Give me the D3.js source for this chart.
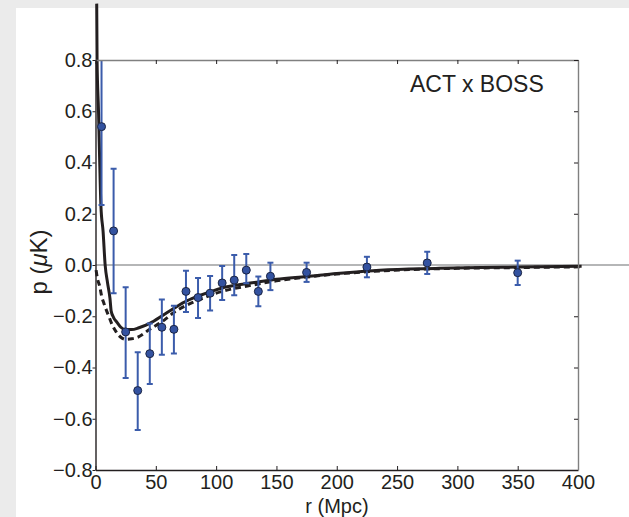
<!DOCTYPE html>
<html><head><meta charset="utf-8">
<script src="https://cdn.jsdelivr.net/npm/d3@7"></script>
<style>
html,body{margin:0;padding:0;background:#ebebeb;}
svg{display:block;}
text{font-family:"Liberation Sans",Arial,Helvetica,sans-serif;fill:#231f20;}
</style></head>
<body>
<script>
// ---- data ----
const rPts   = [5,15,25,35,45,55,65,75,85,95,105,115,125,135,145,175,225,275,350];
const pPts   = [0.54,0.133,-0.261,-0.49,-0.346,-0.243,-0.251,-0.103,-0.127,-0.11,-0.07,-0.059,-0.02,-0.103,-0.044,-0.029,-0.008,0.008,-0.03];
const errHi  = [0.85,0.376,-0.087,-0.34,-0.228,-0.135,-0.159,-0.022,-0.051,-0.043,-0.004,0.039,0.043,-0.045,0.009,0.009,0.032,0.052,0.017];
const errLo  = [0.234,-0.11,-0.441,-0.644,-0.464,-0.35,-0.345,-0.183,-0.207,-0.178,-0.137,-0.118,-0.071,-0.161,-0.098,-0.066,-0.048,-0.035,-0.078];

const solidR = [1.0,1.3,2.5,3.5,4.5,6.3,8,10,12,13,15,18,21,25,30,36,45,56,65,76,87,98,109,120,135,150,175,200,230,260,285,320,350,403];
const solidP = [1.02,0.8,0.6,0.4,0.23,0.13,0.0,-0.07,-0.13,-0.18,-0.205,-0.225,-0.243,-0.252,-0.252,-0.245,-0.228,-0.196,-0.169,-0.139,-0.118,-0.1,-0.085,-0.076,-0.066,-0.056,-0.045,-0.033,-0.022,-0.016,-0.013,-0.01,-0.008,-0.005];

const dashR = [0.5,1.5,3.6,5,7,11,14,17,21,25,30,35,45,57,65,76,87,98,109,126,150,175,200,230,260,300,350,403];
const dashP = [-0.02,-0.05,-0.085,-0.12,-0.15,-0.2,-0.235,-0.26,-0.282,-0.29,-0.288,-0.282,-0.251,-0.215,-0.185,-0.156,-0.134,-0.113,-0.098,-0.082,-0.062,-0.047,-0.035,-0.025,-0.018,-0.013,-0.01,-0.007];

const xTicks = [0,50,100,150,200,250,300,350,400];
const yTicks = [-0.8,-0.6,-0.4,-0.2,0.0,0.2,0.4,0.6,0.8];
const label = "ACT x BOSS";

// ---- layout ----
const W = 629, H = 517;
const L = 95.5, R = 578, T = 60, B = 470;

const svg = d3.select("body").append("svg").attr("width", W).attr("height", H);
svg.append("rect").attr("width", W).attr("height", H).attr("fill", "#ebebeb");
svg.append("rect").attr("x", 16).attr("y", 8).attr("width", W - 16).attr("height", H - 8).attr("fill", "#fff");

const x = d3.scaleLinear().domain([0, 400]).range([L, R]);
const y = d3.scaleLinear().domain([-0.8, 0.8]).range([B, T]);

svg.append("defs").append("clipPath").attr("id", "plotclip")
  .append("rect").attr("x", L).attr("y", T).attr("width", R - L).attr("height", B - T);

// zero line
svg.append("line").attr("x1", L).attr("x2", W).attr("y1", y(0)).attr("y2", y(0))
  .attr("stroke", "#6d6e70").attr("stroke-width", 1.2);

// curves
const line = d3.line().x(d => x(d[0])).y(d => y(d[1])).curve(d3.curveMonotoneX);
svg.append("path").datum(dashR.map((r, i) => [r, dashP[i]]))
  .attr("d", line).attr("fill", "none").attr("stroke", "#231f20")
  .attr("stroke-width", 3).attr("stroke-dasharray", "6,4");
svg.append("path").datum(solidR.map((r, i) => [r, solidP[i]]))
  .attr("d", line).attr("fill", "none").attr("stroke", "#231f20")
  .attr("stroke-width", 3);

// error bars
const eb = svg.append("g").attr("clip-path", "url(#plotclip)")
  .attr("stroke", "#3b5cab").attr("stroke-width", 2);
rPts.forEach((r, i) => {
  const cx = x(r);
  eb.append("line").attr("x1", cx).attr("x2", cx).attr("y1", y(errHi[i])).attr("y2", y(errLo[i]));
  eb.append("line").attr("x1", cx - 3).attr("x2", cx + 3).attr("y1", y(errHi[i])).attr("y2", y(errHi[i]));
  eb.append("line").attr("x1", cx - 3).attr("x2", cx + 3).attr("y1", y(errLo[i])).attr("y2", y(errLo[i]));
});
// points
svg.append("g").selectAll("circle").data(rPts).join("circle")
  .attr("cx", d => x(d)).attr("cy", (d, i) => y(pPts[i])).attr("r", 4)
  .attr("fill", "#3352a0").attr("stroke", "#1b2544").attr("stroke-width", 1);

// axes
const fs = "20px";
const gx = svg.append("g").attr("transform", `translate(0,${B})`)
  .call(d3.axisBottom(x).tickValues(xTicks).tickSizeInner(-4).tickSizeOuter(0).tickPadding(5).tickFormat(d3.format("d")));
gx.selectAll("text").style("font-size", fs);
gx.select(".domain").attr("stroke", "#231f20").attr("stroke-width", 1.4);
gx.selectAll(".tick line").attr("stroke", "#231f20");

const gt = svg.append("g").attr("transform", `translate(0,${T})`)
  .call(d3.axisTop(x).tickValues(xTicks).tickSizeInner(-4).tickSizeOuter(0).tickFormat(""));
gt.select(".domain").attr("stroke", "#808080").attr("stroke-width", 1.4);
gt.selectAll(".tick line").attr("stroke", "#231f20");

const gr = svg.append("g").attr("transform", `translate(${R},0)`)
  .call(d3.axisRight(y).tickValues(yTicks).tickSizeInner(-4).tickSizeOuter(0).tickFormat(""));
gr.select(".domain").attr("stroke", "#808080").attr("stroke-width", 1.4);
gr.selectAll(".tick line").attr("stroke", "#231f20");

const gy = svg.append("g").attr("transform", `translate(${L},0)`)
  .call(d3.axisLeft(y).tickValues(yTicks).tickSizeInner(3).tickSizeOuter(0).tickPadding(0)
    .tickFormat(d => d3.format(".1f")(d).replace("-", "\u2212")));
gy.selectAll("text").style("font-size", fs);
gy.select(".domain").attr("stroke", "#231f20").attr("stroke-width", 1.4);
gy.selectAll(".tick line").attr("stroke", "#231f20");

// labels
svg.append("text").attr("x", 337).attr("y", 512.5).attr("text-anchor", "middle")
  .style("font-size", "20px").text("r (Mpc)");
const yl = svg.append("text").attr("transform", "translate(47,262) rotate(-90)")
  .attr("text-anchor", "middle").style("font-size", "24px");
yl.append("tspan").text("p (");
yl.append("tspan").style("font-style", "italic").text("\u03bc");
yl.append("tspan").text("K)");

svg.append("text").attr("x", 410).attr("y", 92).style("font-size", "23px").text(label);
</script>
</body></html>
